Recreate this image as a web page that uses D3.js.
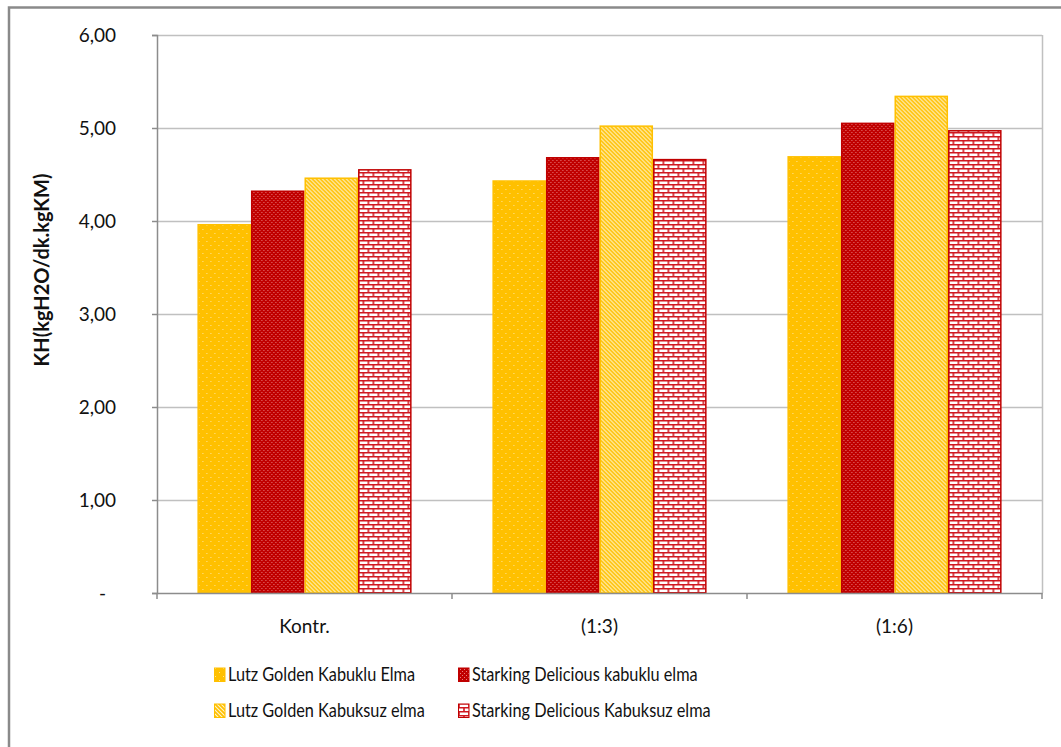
<!DOCTYPE html>
<html>
<head>
<meta charset="utf-8">
<script src="https://cdn.jsdelivr.net/npm/d3@7/dist/d3.min.js"></script>
<style>
  html, body { margin: 0; padding: 0; background: #fff; }
  svg text { font-family: Lato, "Open Sans", "Liberation Sans", sans-serif; fill: #111; }
</style>
</head>
<body>
<svg id="chart" width="1061" height="747"></svg>
<script>
// Treatments on the x axis
const categories = ["Kontr.", "(1:3)", "(1:6)"];
// Series names (legend order)
const seriesNames = [
  "Lutz Golden Kabuklu Elma",
  "Starking Delicious kabuklu elma",
  "Lutz Golden Kabuksuz elma",
  "Starking Delicious Kabuksuz elma"
];
// KH values per series, one per treatment
const lutzKabuklu = [3.96, 4.43, 4.69];
const starkingKabuklu = [4.32, 4.68, 5.05];
const lutzKabuksuz = [4.46, 5.02, 5.34];
const starkingKabuksuz = [4.55, 4.66, 4.97];
// Y axis ticks and their labels
const yTicks = [0, 1, 2, 3, 4, 5, 6];
const yTickLabels = ["-", "1,00", "2,00", "3,00", "4,00", "5,00", "6,00"];

const seriesValues = [lutzKabuklu, starkingKabuklu, lutzKabuksuz, starkingKabuksuz];

const svg = d3.select("#chart");
const W = 1061, H = 747;
const plot = { left: 157, right: 1042, top: 35, bottom: 593 };

// Outer chart frame
svg.append("rect")
  .attr("x", 9).attr("y", 7.5)
  .attr("width", W + 20).attr("height", H + 20)
  .attr("fill", "#fff").attr("stroke", "#8a8a8a").attr("stroke-width", 2.5);

// Fill patterns
const defs = svg.append("defs");

// Orange with sparse light dots
const p1 = defs.append("pattern").attr("id", "pat0").attr("patternUnits", "userSpaceOnUse")
  .attr("width", 8).attr("height", 8);
p1.append("rect").attr("width", 8).attr("height", 8).attr("fill", "#FFC000");
p1.append("rect").attr("x", 1).attr("y", 1).attr("width", 1).attr("height", 1).attr("fill", "#FFE59A");
p1.append("rect").attr("x", 5).attr("y", 5).attr("width", 1).attr("height", 1).attr("fill", "#FFE59A");

// Dark red with dense small dots
const p2 = defs.append("pattern").attr("id", "pat1").attr("patternUnits", "userSpaceOnUse")
  .attr("width", 4).attr("height", 4);
p2.append("rect").attr("width", 4).attr("height", 4).attr("fill", "#C00000");
p2.append("rect").attr("x", 0).attr("y", 0).attr("width", 1).attr("height", 1).attr("fill", "#E87C7C");
p2.append("rect").attr("x", 2).attr("y", 2).attr("width", 1).attr("height", 1).attr("fill", "#E87C7C");

// Orange downward diagonal stripes on pale background
const p3 = defs.append("pattern").attr("id", "pat2").attr("patternUnits", "userSpaceOnUse")
  .attr("width", 4).attr("height", 4);
p3.append("rect").attr("width", 4).attr("height", 4).attr("fill", "#FFF4CC");
p3.append("path").attr("d", "M-1,-1 L5,5 M-1,3 L1,5 M3,-1 L5,1")
  .attr("stroke", "#FFC000").attr("stroke-width", 1.7);

// Red brick pattern on white
const p4 = defs.append("pattern").attr("id", "pat3").attr("patternUnits", "userSpaceOnUse")
  .attr("width", 10).attr("height", 8);
p4.append("rect").attr("width", 10).attr("height", 8).attr("fill", "#fff");
p4.append("path").attr("d", "M0,0.75 H10 M0,4.75 H10 M1,0 V4 M6,4 V8")
  .attr("stroke", "#D01820").attr("stroke-width", 1.6);

const seriesStroke = ["#FFC000", "#C00000", "#FFC000", "#C00000"];

// Scales
const x0 = d3.scaleBand().domain(categories).range([plot.left, plot.right]).paddingInner(0.274).paddingOuter(0.137);
const x1 = d3.scaleBand().domain(d3.range(seriesNames.length)).range([0, x0.bandwidth()]);
const y = d3.scaleLinear().domain([0, 6]).range([plot.bottom, plot.top]);

// Gridlines
svg.append("g").selectAll("line").data(yTicks.filter(t => t > 0)).join("line")
  .attr("x1", plot.left).attr("x2", plot.right)
  .attr("y1", d => Math.round(y(d)) + 0.5).attr("y2", d => Math.round(y(d)) + 0.5)
  .attr("stroke", "#C0C0C0").attr("stroke-width", 1.5);

// Plot area right border
svg.append("line")
  .attr("x1", plot.right + 0.5).attr("x2", plot.right + 0.5)
  .attr("y1", plot.top).attr("y2", plot.bottom)
  .attr("stroke", "#C0C0C0").attr("stroke-width", 1.5);

// Bars
const groups = svg.append("g").selectAll("g").data(categories).join("g")
  .attr("transform", c => `translate(${x0(c)},0)`);
groups.selectAll("rect")
  .data((c, ci) => seriesValues.map((vals, si) => ({ si, v: vals[ci] })))
  .join("rect")
  .attr("x", d => x1(d.si) + 0.75)
  .attr("y", d => y(d.v))
  .attr("width", x1.bandwidth() - 1.5)
  .attr("height", d => y(0) - y(d.v))
  .attr("fill", d => `url(#pat${d.si})`)
  .attr("stroke", d => seriesStroke[d.si])
  .attr("stroke-width", 1.5);

// Y axis
const yAxis = d3.axisLeft(y).tickValues(yTicks).tickSize(5).tickPadding(36)
  .tickFormat((d, i) => yTickLabels[i]);
const gy = svg.append("g").attr("transform", `translate(${plot.left},0)`).call(yAxis);
gy.select(".domain").attr("stroke", "#8c8c8c").attr("stroke-width", 1.5);
gy.selectAll(".tick line").attr("stroke", "#8c8c8c").attr("stroke-width", 1.5);
gy.selectAll(".tick text").style("font-size", "19px").attr("fill", "#222");
gy.selectAll(".tick text").filter(d => d === 0).attr("dx", -10);

// X axis
const xAxis = d3.axisBottom(x0).tickSize(0).tickPadding(27);
const gx = svg.append("g").attr("transform", `translate(0,${plot.bottom})`).call(xAxis);
gx.select(".domain").attr("stroke", "#8c8c8c").attr("stroke-width", 1.5);
gx.selectAll(".tick text").style("font-size", "19px").attr("fill", "#222");
// Category boundary ticks
const step = x0.step();
svg.append("g").selectAll("line").data(d3.range(categories.length + 1)).join("line")
  .attr("x1", i => plot.left + i * step).attr("x2", i => plot.left + i * step)
  .attr("y1", plot.bottom).attr("y2", plot.bottom + 6)
  .attr("stroke", "#8c8c8c").attr("stroke-width", 1.5);

// Y axis title
svg.append("text")
  .attr("transform", `translate(49,270) rotate(-90)`)
  .attr("text-anchor", "middle")
  .style("font-size", "20px").style("font-weight", "bold")
  .text("KH(kgH2O/dk.kgKM)");

// Legend
const legendPos = [[214, 675], [458, 675], [214, 711], [458, 711]];
const legend = svg.append("g").selectAll("g").data(seriesNames).join("g")
  .attr("transform", (d, i) => `translate(${legendPos[i][0]},${legendPos[i][1]})`);
legend.append("rect")
  .attr("x", 0.5).attr("y", -7).attr("width", 10.5).attr("height", 13.5)
  .attr("fill", (d, i) => `url(#pat${i})`)
  .attr("stroke", (d, i) => seriesStroke[i]).attr("stroke-width", 1);
legend.append("text")
  .attr("transform", "translate(14,0) scale(0.88,1)")
  .attr("dy", "0.35em")
  .style("font-size", "18.5px").attr("fill", "#222")
  .text(d => d);
</script>
</body>
</html>
